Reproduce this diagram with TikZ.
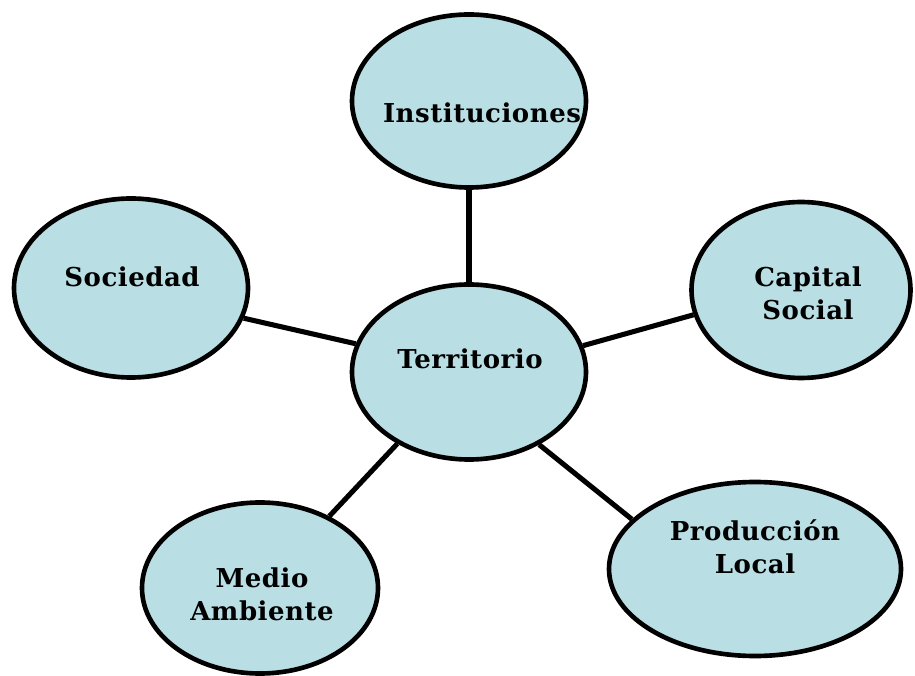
\documentclass[tikz,border=0pt]{standalone}
\usepackage{fontspec}
\setmainfont{DejaVu Serif}
\usetikzlibrary{shapes.geometric}
\definecolor{celeste}{RGB}{185,222,227}
\begin{document}
\begin{tikzpicture}[x=0.25mm, y=-0.25mm,
            zona/.style={ellipse, draw, line width=3.3pt, fill=celeste, inner sep=0pt},
            etiqueta/.style={align=center, inner sep=0pt,
                font=\fontsize{18.5}{23.5}\selectfont\bfseries\addfontfeatures{LetterSpace=2}},
            enlace/.style={line width=3.6pt}]
            \def \px {0.25mm}
            \fill[white] (0,0) rectangle (915,676);
            \useasboundingbox (0,0) rectangle (915,676);
            \node[zona, minimum width=234*\px, minimum height=175*\px] (terr) at (469, 372) {};
            \node[zona, minimum width=234*\px, minimum height=173*\px] (inst) at (469, 101) {};
            \node[zona, minimum width=234*\px, minimum height=179*\px] (soc) at (131, 288) {};
            \node[zona, minimum width=219*\px, minimum height=176*\px] (cap) at (801, 290) {};
            \node[zona, minimum width=292*\px, minimum height=174*\px] (prod) at (755, 569) {};
            \node[zona, minimum width=236*\px, minimum height=171*\px] (medio) at (260, 588) {};
            \node[etiqueta] (terr-t) at (470, 359) {Territorio};
            \node[etiqueta] (inst-t) at (482, 113) {Instituciones};
            \node[etiqueta] (soc-t) at (132, 277) {Sociedad};
            \node[etiqueta] (cap-t) at (808, 293) {Capital\\Social};
            \node[etiqueta] (prod-t) at (755, 547) {Producción\\Local};
            \node[etiqueta] (medio-t) at (262, 594) {Medio\\Ambiente};
            \draw[enlace] (terr.90) -- (inst.270);
            \draw[enlace] (terr.166) -- (soc.-15);
            \draw[enlace] (terr.13) -- (cap.-167);
            \draw[enlace] (terr.225) -- (medio.46);
            \draw[enlace] (terr.-46) -- (prod.158);
        \end{tikzpicture}
\end{document}
